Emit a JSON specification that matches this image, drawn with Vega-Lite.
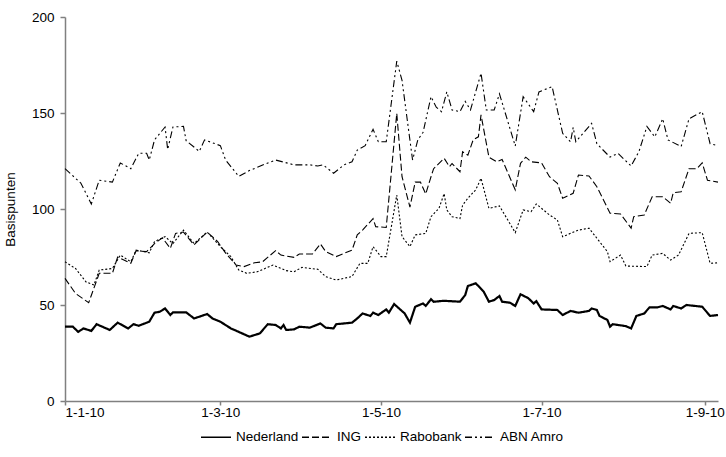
{
  "$schema": "https://vega.github.io/schema/vega-lite/v6.json",
  "width": 653,
  "height": 384,
  "autosize": {"type": "none"},
  "padding": {"left": 65, "top": 17, "right": 8, "bottom": 56},
  "config": {
    "view": {"stroke": null},
    "font": "Liberation Sans",
    "axis": {
      "labelFont": "Liberation Sans",
      "titleFont": "Liberation Sans",
      "labelColor": "#000000",
      "titleColor": "#000000",
      "grid": false,
      "domainColor": "#808080",
      "tickColor": "#808080",
      "domainWidth": 1.5,
      "tickWidth": 1.5,
      "labelFontSize": 13.5,
      "titleFontSize": 13.5,
      "titleFontWeight": "normal"
    },
    "legend": {
      "labelFont": "Liberation Sans",
      "labelFontSize": 13.5,
      "labelColor": "#000000"
    }
  },
  "datasets": {
    "rates": [
      {"d": "2010/01/01", "s": "ABN Amro", "v": 121},
      {"d": "2010/01/07", "s": "ABN Amro", "v": 113.5},
      {"d": "2010/01/11", "s": "ABN Amro", "v": 102.6},
      {"d": "2010/01/14", "s": "ABN Amro", "v": 115},
      {"d": "2010/01/19", "s": "ABN Amro", "v": 114},
      {"d": "2010/01/22", "s": "ABN Amro", "v": 124},
      {"d": "2010/01/26", "s": "ABN Amro", "v": 121},
      {"d": "2010/01/29", "s": "ABN Amro", "v": 129},
      {"d": "2010/02/01", "s": "ABN Amro", "v": 129},
      {"d": "2010/02/02", "s": "ABN Amro", "v": 125.5},
      {"d": "2010/02/04", "s": "ABN Amro", "v": 136},
      {"d": "2010/02/08", "s": "ABN Amro", "v": 142.7},
      {"d": "2010/02/09", "s": "ABN Amro", "v": 131},
      {"d": "2010/02/11", "s": "ABN Amro", "v": 142.7},
      {"d": "2010/02/15", "s": "ABN Amro", "v": 143},
      {"d": "2010/02/16", "s": "ABN Amro", "v": 135.6},
      {"d": "2010/02/21", "s": "ABN Amro", "v": 130},
      {"d": "2010/02/23", "s": "ABN Amro", "v": 136},
      {"d": "2010/03/01", "s": "ABN Amro", "v": 133},
      {"d": "2010/03/03", "s": "ABN Amro", "v": 125.5},
      {"d": "2010/03/08", "s": "ABN Amro", "v": 117},
      {"d": "2010/03/12", "s": "ABN Amro", "v": 120},
      {"d": "2010/03/18", "s": "ABN Amro", "v": 123.4},
      {"d": "2010/03/22", "s": "ABN Amro", "v": 125.5},
      {"d": "2010/03/29", "s": "ABN Amro", "v": 123},
      {"d": "2010/04/04", "s": "ABN Amro", "v": 123},
      {"d": "2010/04/07", "s": "ABN Amro", "v": 122.4},
      {"d": "2010/04/09", "s": "ABN Amro", "v": 123},
      {"d": "2010/04/13", "s": "ABN Amro", "v": 118.6},
      {"d": "2010/04/17", "s": "ABN Amro", "v": 123},
      {"d": "2010/04/20", "s": "ABN Amro", "v": 124.6},
      {"d": "2010/04/22", "s": "ABN Amro", "v": 130.7},
      {"d": "2010/04/25", "s": "ABN Amro", "v": 133},
      {"d": "2010/04/28", "s": "ABN Amro", "v": 141.5},
      {"d": "2010/04/30", "s": "ABN Amro", "v": 135},
      {"d": "2010/05/03", "s": "ABN Amro", "v": 135},
      {"d": "2010/05/07", "s": "ABN Amro", "v": 177},
      {"d": "2010/05/09", "s": "ABN Amro", "v": 167},
      {"d": "2010/05/13", "s": "ABN Amro", "v": 125.5},
      {"d": "2010/05/15", "s": "ABN Amro", "v": 136},
      {"d": "2010/05/17", "s": "ABN Amro", "v": 140},
      {"d": "2010/05/20", "s": "ABN Amro", "v": 158.5},
      {"d": "2010/05/22", "s": "ABN Amro", "v": 153},
      {"d": "2010/05/24", "s": "ABN Amro", "v": 150.7},
      {"d": "2010/05/26", "s": "ABN Amro", "v": 161},
      {"d": "2010/05/28", "s": "ABN Amro", "v": 151.6},
      {"d": "2010/05/31", "s": "ABN Amro", "v": 150.7},
      {"d": "2010/06/02", "s": "ABN Amro", "v": 156},
      {"d": "2010/06/04", "s": "ABN Amro", "v": 151.6},
      {"d": "2010/06/08", "s": "ABN Amro", "v": 170.7},
      {"d": "2010/06/10", "s": "ABN Amro", "v": 151.6},
      {"d": "2010/06/13", "s": "ABN Amro", "v": 151.6},
      {"d": "2010/06/15", "s": "ABN Amro", "v": 160},
      {"d": "2010/06/21", "s": "ABN Amro", "v": 132.8},
      {"d": "2010/06/24", "s": "ABN Amro", "v": 158.5},
      {"d": "2010/06/28", "s": "ABN Amro", "v": 150.7},
      {"d": "2010/06/30", "s": "ABN Amro", "v": 161},
      {"d": "2010/07/05", "s": "ABN Amro", "v": 163.7},
      {"d": "2010/07/09", "s": "ABN Amro", "v": 139.4},
      {"d": "2010/07/12", "s": "ABN Amro", "v": 135},
      {"d": "2010/07/13", "s": "ABN Amro", "v": 142.5},
      {"d": "2010/07/14", "s": "ABN Amro", "v": 135},
      {"d": "2010/07/20", "s": "ABN Amro", "v": 144.6},
      {"d": "2010/07/22", "s": "ABN Amro", "v": 134},
      {"d": "2010/07/27", "s": "ABN Amro", "v": 127},
      {"d": "2010/07/30", "s": "ABN Amro", "v": 129},
      {"d": "2010/08/04", "s": "ABN Amro", "v": 122.4},
      {"d": "2010/08/07", "s": "ABN Amro", "v": 130},
      {"d": "2010/08/10", "s": "ABN Amro", "v": 143},
      {"d": "2010/08/13", "s": "ABN Amro", "v": 137.6},
      {"d": "2010/08/16", "s": "ABN Amro", "v": 147},
      {"d": "2010/08/18", "s": "ABN Amro", "v": 136},
      {"d": "2010/08/23", "s": "ABN Amro", "v": 132.5},
      {"d": "2010/08/26", "s": "ABN Amro", "v": 147},
      {"d": "2010/08/31", "s": "ABN Amro", "v": 150.7},
      {"d": "2010/09/03", "s": "ABN Amro", "v": 134},
      {"d": "2010/09/06", "s": "ABN Amro", "v": 133},

      {"d": "2010/01/01", "s": "ING", "v": 63.9},
      {"d": "2010/01/05", "s": "ING", "v": 56},
      {"d": "2010/01/10", "s": "ING", "v": 51.2},
      {"d": "2010/01/14", "s": "ING", "v": 66.5},
      {"d": "2010/01/19", "s": "ING", "v": 66.5},
      {"d": "2010/01/21", "s": "ING", "v": 75},
      {"d": "2010/01/26", "s": "ING", "v": 71.7},
      {"d": "2010/01/28", "s": "ING", "v": 78.3},
      {"d": "2010/02/01", "s": "ING", "v": 77.8},
      {"d": "2010/02/04", "s": "ING", "v": 82},
      {"d": "2010/02/07", "s": "ING", "v": 85},
      {"d": "2010/02/10", "s": "ING", "v": 79.5},
      {"d": "2010/02/12", "s": "ING", "v": 87.3},
      {"d": "2010/02/15", "s": "ING", "v": 88},
      {"d": "2010/02/19", "s": "ING", "v": 81.3},
      {"d": "2010/02/24", "s": "ING", "v": 88},
      {"d": "2010/02/28", "s": "ING", "v": 83},
      {"d": "2010/03/03", "s": "ING", "v": 77},
      {"d": "2010/03/07", "s": "ING", "v": 70.8},
      {"d": "2010/03/10", "s": "ING", "v": 70},
      {"d": "2010/03/14", "s": "ING", "v": 72},
      {"d": "2010/03/17", "s": "ING", "v": 72.5},
      {"d": "2010/03/22", "s": "ING", "v": 78.3},
      {"d": "2010/03/24", "s": "ING", "v": 76},
      {"d": "2010/03/29", "s": "ING", "v": 74.8},
      {"d": "2010/03/31", "s": "ING", "v": 76.6},
      {"d": "2010/04/05", "s": "ING", "v": 76.6},
      {"d": "2010/04/08", "s": "ING", "v": 81.8},
      {"d": "2010/04/10", "s": "ING", "v": 77.8},
      {"d": "2010/04/14", "s": "ING", "v": 75.2},
      {"d": "2010/04/20", "s": "ING", "v": 78.6},
      {"d": "2010/04/22", "s": "ING", "v": 86.5},
      {"d": "2010/04/24", "s": "ING", "v": 89},
      {"d": "2010/04/28", "s": "ING", "v": 95},
      {"d": "2010/04/29", "s": "ING", "v": 90.8},
      {"d": "2010/05/03", "s": "ING", "v": 90.4},
      {"d": "2010/05/07", "s": "ING", "v": 149.8},
      {"d": "2010/05/09", "s": "ING", "v": 116.8},
      {"d": "2010/05/12", "s": "ING", "v": 101},
      {"d": "2010/05/14", "s": "ING", "v": 114},
      {"d": "2010/05/16", "s": "ING", "v": 114},
      {"d": "2010/05/18", "s": "ING", "v": 107.8},
      {"d": "2010/05/20", "s": "ING", "v": 116.8},
      {"d": "2010/05/21", "s": "ING", "v": 121},
      {"d": "2010/05/25", "s": "ING", "v": 126.4},
      {"d": "2010/05/27", "s": "ING", "v": 122},
      {"d": "2010/05/28", "s": "ING", "v": 123.7},
      {"d": "2010/05/31", "s": "ING", "v": 119.4},
      {"d": "2010/06/01", "s": "ING", "v": 129.8},
      {"d": "2010/06/03", "s": "ING", "v": 128},
      {"d": "2010/06/05", "s": "ING", "v": 136},
      {"d": "2010/06/07", "s": "ING", "v": 137.6},
      {"d": "2010/06/08", "s": "ING", "v": 149},
      {"d": "2010/06/11", "s": "ING", "v": 127},
      {"d": "2010/06/14", "s": "ING", "v": 124.6},
      {"d": "2010/06/16", "s": "ING", "v": 125.8},
      {"d": "2010/06/21", "s": "ING", "v": 110},
      {"d": "2010/06/23", "s": "ING", "v": 123.8},
      {"d": "2010/06/25", "s": "ING", "v": 127},
      {"d": "2010/06/27", "s": "ING", "v": 124.6},
      {"d": "2010/07/01", "s": "ING", "v": 124},
      {"d": "2010/07/04", "s": "ING", "v": 116.8},
      {"d": "2010/07/07", "s": "ING", "v": 113.4},
      {"d": "2010/07/09", "s": "ING", "v": 105.6},
      {"d": "2010/07/13", "s": "ING", "v": 108.2},
      {"d": "2010/07/15", "s": "ING", "v": 117.7},
      {"d": "2010/07/19", "s": "ING", "v": 117.2},
      {"d": "2010/07/22", "s": "ING", "v": 111.6},
      {"d": "2010/07/27", "s": "ING", "v": 97.8},
      {"d": "2010/07/31", "s": "ING", "v": 97.4},
      {"d": "2010/08/04", "s": "ING", "v": 90},
      {"d": "2010/08/05", "s": "ING", "v": 96},
      {"d": "2010/08/09", "s": "ING", "v": 96.9},
      {"d": "2010/08/12", "s": "ING", "v": 106.4},
      {"d": "2010/08/16", "s": "ING", "v": 106.4},
      {"d": "2010/08/19", "s": "ING", "v": 103},
      {"d": "2010/08/20", "s": "ING", "v": 108.5},
      {"d": "2010/08/23", "s": "ING", "v": 109},
      {"d": "2010/08/26", "s": "ING", "v": 121},
      {"d": "2010/08/29", "s": "ING", "v": 121},
      {"d": "2010/08/31", "s": "ING", "v": 124},
      {"d": "2010/09/02", "s": "ING", "v": 115},
      {"d": "2010/09/06", "s": "ING", "v": 114},

      {"d": "2010/01/01", "s": "Rabobank", "v": 72.5},
      {"d": "2010/01/05", "s": "Rabobank", "v": 69},
      {"d": "2010/01/09", "s": "Rabobank", "v": 62},
      {"d": "2010/01/12", "s": "Rabobank", "v": 60.4},
      {"d": "2010/01/14", "s": "Rabobank", "v": 68.2},
      {"d": "2010/01/19", "s": "Rabobank", "v": 69},
      {"d": "2010/01/22", "s": "Rabobank", "v": 76},
      {"d": "2010/01/26", "s": "Rabobank", "v": 72.5},
      {"d": "2010/01/28", "s": "Rabobank", "v": 78.6},
      {"d": "2010/02/02", "s": "Rabobank", "v": 77.2},
      {"d": "2010/02/04", "s": "Rabobank", "v": 83},
      {"d": "2010/02/08", "s": "Rabobank", "v": 85.6},
      {"d": "2010/02/11", "s": "Rabobank", "v": 82},
      {"d": "2010/02/15", "s": "Rabobank", "v": 89},
      {"d": "2010/02/19", "s": "Rabobank", "v": 82},
      {"d": "2010/02/24", "s": "Rabobank", "v": 88},
      {"d": "2010/03/01", "s": "Rabobank", "v": 80.4},
      {"d": "2010/03/05", "s": "Rabobank", "v": 75.2},
      {"d": "2010/03/08", "s": "Rabobank", "v": 68.2},
      {"d": "2010/03/11", "s": "Rabobank", "v": 66.5},
      {"d": "2010/03/15", "s": "Rabobank", "v": 67.3},
      {"d": "2010/03/21", "s": "Rabobank", "v": 70.8},
      {"d": "2010/03/26", "s": "Rabobank", "v": 67.9},
      {"d": "2010/03/29", "s": "Rabobank", "v": 67.3},
      {"d": "2010/04/01", "s": "Rabobank", "v": 69.6},
      {"d": "2010/04/07", "s": "Rabobank", "v": 68.6},
      {"d": "2010/04/10", "s": "Rabobank", "v": 64.8},
      {"d": "2010/04/14", "s": "Rabobank", "v": 63},
      {"d": "2010/04/20", "s": "Rabobank", "v": 64.8},
      {"d": "2010/04/23", "s": "Rabobank", "v": 71.7},
      {"d": "2010/04/26", "s": "Rabobank", "v": 71.7},
      {"d": "2010/04/28", "s": "Rabobank", "v": 80.4},
      {"d": "2010/05/01", "s": "Rabobank", "v": 75.2},
      {"d": "2010/05/03", "s": "Rabobank", "v": 75.2},
      {"d": "2010/05/07", "s": "Rabobank", "v": 107.3},
      {"d": "2010/05/09", "s": "Rabobank", "v": 85.6},
      {"d": "2010/05/12", "s": "Rabobank", "v": 80.4},
      {"d": "2010/05/14", "s": "Rabobank", "v": 86.5},
      {"d": "2010/05/18", "s": "Rabobank", "v": 87.3},
      {"d": "2010/05/20", "s": "Rabobank", "v": 96},
      {"d": "2010/05/23", "s": "Rabobank", "v": 100.3},
      {"d": "2010/05/25", "s": "Rabobank", "v": 108},
      {"d": "2010/05/26", "s": "Rabobank", "v": 99.5},
      {"d": "2010/05/28", "s": "Rabobank", "v": 96},
      {"d": "2010/05/31", "s": "Rabobank", "v": 95},
      {"d": "2010/06/01", "s": "Rabobank", "v": 102},
      {"d": "2010/06/03", "s": "Rabobank", "v": 105.6},
      {"d": "2010/06/06", "s": "Rabobank", "v": 110},
      {"d": "2010/06/08", "s": "Rabobank", "v": 116},
      {"d": "2010/06/11", "s": "Rabobank", "v": 100.3},
      {"d": "2010/06/15", "s": "Rabobank", "v": 101.6},
      {"d": "2010/06/21", "s": "Rabobank", "v": 87.7},
      {"d": "2010/06/24", "s": "Rabobank", "v": 99.5},
      {"d": "2010/06/27", "s": "Rabobank", "v": 98.6},
      {"d": "2010/06/29", "s": "Rabobank", "v": 102.6},
      {"d": "2010/07/04", "s": "Rabobank", "v": 96.9},
      {"d": "2010/07/07", "s": "Rabobank", "v": 94.3},
      {"d": "2010/07/09", "s": "Rabobank", "v": 85.6},
      {"d": "2010/07/15", "s": "Rabobank", "v": 89},
      {"d": "2010/07/19", "s": "Rabobank", "v": 90},
      {"d": "2010/07/26", "s": "Rabobank", "v": 77.8},
      {"d": "2010/07/27", "s": "Rabobank", "v": 72.6},
      {"d": "2010/07/31", "s": "Rabobank", "v": 76},
      {"d": "2010/08/02", "s": "Rabobank", "v": 70.3},
      {"d": "2010/08/10", "s": "Rabobank", "v": 70},
      {"d": "2010/08/12", "s": "Rabobank", "v": 76},
      {"d": "2010/08/16", "s": "Rabobank", "v": 76.9},
      {"d": "2010/08/19", "s": "Rabobank", "v": 73.4},
      {"d": "2010/08/22", "s": "Rabobank", "v": 76},
      {"d": "2010/08/26", "s": "Rabobank", "v": 87.3},
      {"d": "2010/08/31", "s": "Rabobank", "v": 87.7},
      {"d": "2010/09/03", "s": "Rabobank", "v": 71.7},
      {"d": "2010/09/06", "s": "Rabobank", "v": 72},

      {"d": "2010/01/01", "s": "Nederland", "v": 38.7},
      {"d": "2010/01/04", "s": "Nederland", "v": 38.7},
      {"d": "2010/01/06", "s": "Nederland", "v": 36},
      {"d": "2010/01/08", "s": "Nederland", "v": 37.8},
      {"d": "2010/01/11", "s": "Nederland", "v": 36.5},
      {"d": "2010/01/13", "s": "Nederland", "v": 40},
      {"d": "2010/01/18", "s": "Nederland", "v": 37},
      {"d": "2010/01/21", "s": "Nederland", "v": 40.8},
      {"d": "2010/01/25", "s": "Nederland", "v": 37.8},
      {"d": "2010/01/27", "s": "Nederland", "v": 40},
      {"d": "2010/01/29", "s": "Nederland", "v": 39.2},
      {"d": "2010/02/02", "s": "Nederland", "v": 41.3},
      {"d": "2010/02/04", "s": "Nederland", "v": 46},
      {"d": "2010/02/06", "s": "Nederland", "v": 46.5},
      {"d": "2010/02/08", "s": "Nederland", "v": 48.2},
      {"d": "2010/02/10", "s": "Nederland", "v": 44.8},
      {"d": "2010/02/11", "s": "Nederland", "v": 46.2},
      {"d": "2010/02/16", "s": "Nederland", "v": 46.2},
      {"d": "2010/02/19", "s": "Nederland", "v": 43},
      {"d": "2010/02/21", "s": "Nederland", "v": 43.9},
      {"d": "2010/02/24", "s": "Nederland", "v": 45.3},
      {"d": "2010/02/26", "s": "Nederland", "v": 43},
      {"d": "2010/03/01", "s": "Nederland", "v": 41.3},
      {"d": "2010/03/05", "s": "Nederland", "v": 37.8},
      {"d": "2010/03/08", "s": "Nederland", "v": 36},
      {"d": "2010/03/12", "s": "Nederland", "v": 33.5},
      {"d": "2010/03/16", "s": "Nederland", "v": 35.2},
      {"d": "2010/03/19", "s": "Nederland", "v": 40},
      {"d": "2010/03/22", "s": "Nederland", "v": 39.6},
      {"d": "2010/03/24", "s": "Nederland", "v": 37.8},
      {"d": "2010/03/25", "s": "Nederland", "v": 39.6},
      {"d": "2010/03/26", "s": "Nederland", "v": 37},
      {"d": "2010/03/29", "s": "Nederland", "v": 37.3},
      {"d": "2010/03/31", "s": "Nederland", "v": 38.7},
      {"d": "2010/04/04", "s": "Nederland", "v": 38.2},
      {"d": "2010/04/08", "s": "Nederland", "v": 40.4},
      {"d": "2010/04/10", "s": "Nederland", "v": 38.2},
      {"d": "2010/04/13", "s": "Nederland", "v": 37.8},
      {"d": "2010/04/14", "s": "Nederland", "v": 40},
      {"d": "2010/04/20", "s": "Nederland", "v": 40.8},
      {"d": "2010/04/22", "s": "Nederland", "v": 43},
      {"d": "2010/04/24", "s": "Nederland", "v": 45.6},
      {"d": "2010/04/27", "s": "Nederland", "v": 44.3},
      {"d": "2010/04/28", "s": "Nederland", "v": 46},
      {"d": "2010/04/30", "s": "Nederland", "v": 44.8},
      {"d": "2010/05/03", "s": "Nederland", "v": 47.7},
      {"d": "2010/05/04", "s": "Nederland", "v": 46},
      {"d": "2010/05/06", "s": "Nederland", "v": 50.5},
      {"d": "2010/05/10", "s": "Nederland", "v": 45.6},
      {"d": "2010/05/12", "s": "Nederland", "v": 40.8},
      {"d": "2010/05/14", "s": "Nederland", "v": 49.1},
      {"d": "2010/05/17", "s": "Nederland", "v": 50.8},
      {"d": "2010/05/18", "s": "Nederland", "v": 49.5},
      {"d": "2010/05/20", "s": "Nederland", "v": 53},
      {"d": "2010/05/21", "s": "Nederland", "v": 51.7},
      {"d": "2010/05/25", "s": "Nederland", "v": 52.2},
      {"d": "2010/05/31", "s": "Nederland", "v": 51.7},
      {"d": "2010/06/02", "s": "Nederland", "v": 55.2},
      {"d": "2010/06/03", "s": "Nederland", "v": 59.9},
      {"d": "2010/06/06", "s": "Nederland", "v": 61.3},
      {"d": "2010/06/09", "s": "Nederland", "v": 57},
      {"d": "2010/06/11", "s": "Nederland", "v": 51.7},
      {"d": "2010/06/13", "s": "Nederland", "v": 52.6},
      {"d": "2010/06/15", "s": "Nederland", "v": 54.7},
      {"d": "2010/06/16", "s": "Nederland", "v": 51.7},
      {"d": "2010/06/19", "s": "Nederland", "v": 51.2},
      {"d": "2010/06/21", "s": "Nederland", "v": 49.5},
      {"d": "2010/06/23", "s": "Nederland", "v": 55.6},
      {"d": "2010/06/26", "s": "Nederland", "v": 53.5},
      {"d": "2010/06/28", "s": "Nederland", "v": 50.8},
      {"d": "2010/06/29", "s": "Nederland", "v": 52},
      {"d": "2010/07/01", "s": "Nederland", "v": 47.7},
      {"d": "2010/07/07", "s": "Nederland", "v": 47.4},
      {"d": "2010/07/09", "s": "Nederland", "v": 44.8},
      {"d": "2010/07/12", "s": "Nederland", "v": 46.9},
      {"d": "2010/07/15", "s": "Nederland", "v": 46},
      {"d": "2010/07/19", "s": "Nederland", "v": 46.9},
      {"d": "2010/07/20", "s": "Nederland", "v": 48.2},
      {"d": "2010/07/22", "s": "Nederland", "v": 47.4},
      {"d": "2010/07/23", "s": "Nederland", "v": 44.3},
      {"d": "2010/07/26", "s": "Nederland", "v": 42.2},
      {"d": "2010/07/27", "s": "Nederland", "v": 38.7},
      {"d": "2010/07/28", "s": "Nederland", "v": 40},
      {"d": "2010/07/30", "s": "Nederland", "v": 39.6},
      {"d": "2010/08/02", "s": "Nederland", "v": 39},
      {"d": "2010/08/04", "s": "Nederland", "v": 37.8},
      {"d": "2010/08/06", "s": "Nederland", "v": 44.3},
      {"d": "2010/08/09", "s": "Nederland", "v": 45.6},
      {"d": "2010/08/11", "s": "Nederland", "v": 48.8},
      {"d": "2010/08/14", "s": "Nederland", "v": 48.8},
      {"d": "2010/08/16", "s": "Nederland", "v": 49.5},
      {"d": "2010/08/19", "s": "Nederland", "v": 47.7},
      {"d": "2010/08/20", "s": "Nederland", "v": 49.5},
      {"d": "2010/08/23", "s": "Nederland", "v": 48.2},
      {"d": "2010/08/25", "s": "Nederland", "v": 50},
      {"d": "2010/08/31", "s": "Nederland", "v": 49.1},
      {"d": "2010/09/03", "s": "Nederland", "v": 44.3},
      {"d": "2010/09/06", "s": "Nederland", "v": 44.8}
    ]
  },
  "data": {"name": "rates"},
  "encoding": {
    "x": {
      "field": "d",
      "type": "temporal",
      "scale": {"domain": [{"year": 2010, "month": 1, "date": 1}, {"year": 2010, "month": 9, "date": 6}]},
      "axis": {
        "title": null,
        "format": "%-d-%-m-%y",
        "values": [
          {"year": 2010, "month": 1, "date": 1},
          {"year": 2010, "month": 3, "date": 1},
          {"year": 2010, "month": 5, "date": 1},
          {"year": 2010, "month": 7, "date": 1},
          {"year": 2010, "month": 9, "date": 1}
        ],
        "tickSize": 4,
        "labelPadding": 0
      }
    },
    "y": {
      "field": "v",
      "type": "quantitative",
      "scale": {"domain": [0, 200]},
      "axis": {
        "title": "Basispunten",
        "values": [0, 50, 100, 150, 200],
        "tickSize": 5,
        "labelPadding": 6,
        "titlePadding": 14
      }
    },
    "strokeDash": {
      "field": "s",
      "type": "nominal",
      "scale": {
        "domain": ["Nederland", "ING", "Rabobank", "ABN Amro"],
        "range": [[1, 0], [7, 3], [2, 2], [7, 3, 2, 3, 2, 3]]
      },
      "legend": {
        "title": null,
        "orient": "none",
        "direction": "horizontal",
        "legendX": 135,
        "legendY": 404,
        "symbolType": "stroke",
        "symbolSize": 900,
        "symbolStrokeColor": "#000000",
        "symbolStrokeWidth": 1.5,
        "labelOffset": 4,
        "columnPadding": 0,
        "padding": 0
      }
    }
  },
  "layer": [
    {
      "transform": [{"filter": "datum.s !== 'Nederland'"}],
      "mark": {"type": "line", "color": "#000000", "strokeWidth": 1.1, "strokeCap": "butt"}
    },
    {
      "transform": [{"filter": "datum.s === 'Nederland'"}],
      "mark": {"type": "line", "color": "#000000", "strokeWidth": 2.2, "strokeCap": "butt"}
    }
  ]
}
